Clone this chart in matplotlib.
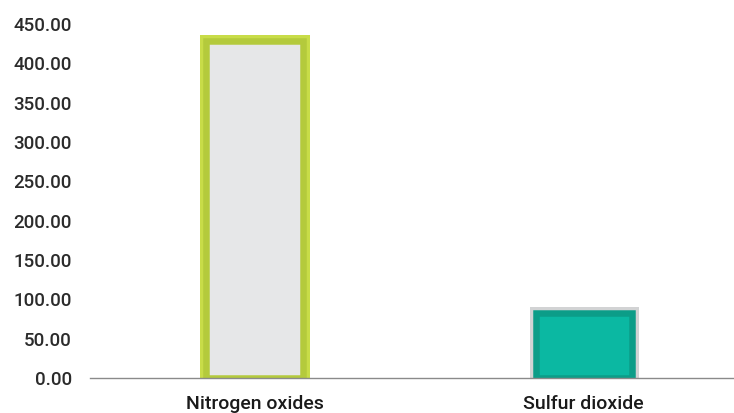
import matplotlib
matplotlib.use("Agg")
from matplotlib import pyplot as plt
from matplotlib import patheffects as pe

# Emissions by pollutant
categories = ["Nitrogen oxides", "Sulfur dioxide"]
values = [428.0, 83.0]
y_ticks = [0, 50, 100, 150, 200, 250, 300, 350, 400, 450]

fill_colours = ["#e6e7e8", "#0bb8a2"]
inner_edge = ["#b4ca3c", "#0c9d88"]
outer_edge = ["#c8dc48", "#d2d3d4"]

plt.rcParams["font.family"] = ["Roboto", "DejaVu Sans"]
plt.rcParams["font.weight"] = "medium"

DPI = 100
fig = plt.figure(figsize=(7.34, 4.13), dpi=DPI)
ax = fig.add_axes([90 / 734, 35 / 413, 1 - 90 / 734, 354 / 413])

px = 72 / DPI  # points per pixel
x = list(range(len(categories)))
bars = ax.bar(x, values, width=0.292, color=fill_colours, edgecolor=inner_edge,
              linewidth=6.5 * px, zorder=2)
for bar, oc in zip(bars, outer_edge):
    bar.set_path_effects([pe.Stroke(linewidth=13 * px, foreground=oc), pe.Normal()])

ax.set_xlim(-0.5, 1.457)
ax.set_ylim(0, 450)
ax.set_yticks(y_ticks)
ax.set_yticklabels([f"{v:.2f}" for v in y_ticks])
ax.set_xticks(x)
ax.set_xticklabels(categories)

for side in ["top", "right", "left"]:
    ax.spines[side].set_visible(False)
ax.spines["bottom"].set_color("#8a8a8a")
ax.spines["bottom"].set_linewidth(1.0)
ax.spines["bottom"].set_zorder(3)

ax.tick_params(axis="y", length=0, pad=13, labelsize=13.5, labelcolor="#2b2b2b")
ax.tick_params(axis="x", length=0, pad=12.5, labelsize=14, labelcolor="#1a1a1a")

plt.savefig("out.png", dpi=DPI)
